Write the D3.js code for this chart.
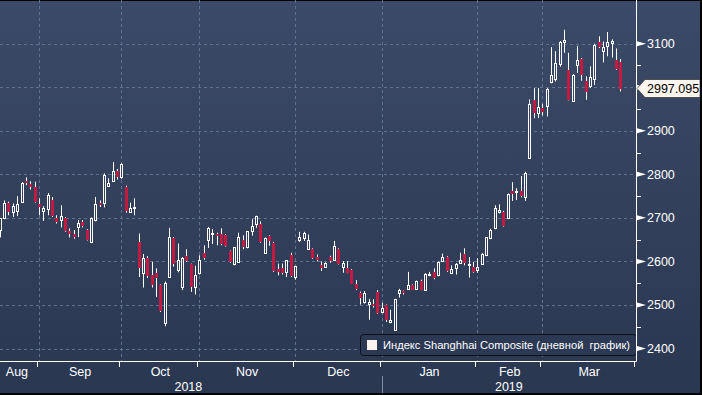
<!DOCTYPE html>
<html>
<head>
<meta charset="utf-8">
<script src="https://cdn.jsdelivr.net/npm/d3@7"></script>
<style>
    body { margin: 0; background: #000; }
    svg { display: block; }
    text { font-family: "Liberation Sans", Arial, sans-serif; }
</style>
</head>
<body>
<svg id="chart" width="702" height="395"></svg>
<script>
// Shanghai Composite, daily candles Aug 2018 - Mar 2019
var dates = [
    "2018-08-20","2018-08-21","2018-08-22","2018-08-23","2018-08-24","2018-08-27","2018-08-28","2018-08-29","2018-08-30","2018-08-31",
    "2018-09-03","2018-09-04","2018-09-05","2018-09-06","2018-09-07","2018-09-10","2018-09-11","2018-09-12","2018-09-13","2018-09-14",
    "2018-09-17","2018-09-18","2018-09-19","2018-09-20","2018-09-21","2018-09-25","2018-09-26","2018-09-27","2018-09-28",
    "2018-10-08","2018-10-09","2018-10-10","2018-10-11","2018-10-12","2018-10-15","2018-10-16","2018-10-17","2018-10-18","2018-10-19",
    "2018-10-22","2018-10-23","2018-10-24","2018-10-25","2018-10-26","2018-10-29","2018-10-30","2018-10-31",
    "2018-11-01","2018-11-02","2018-11-05","2018-11-06","2018-11-07","2018-11-08","2018-11-09","2018-11-12","2018-11-13","2018-11-14",
    "2018-11-15","2018-11-16","2018-11-19","2018-11-20","2018-11-21","2018-11-22","2018-11-23","2018-11-26","2018-11-27","2018-11-28",
    "2018-11-29","2018-11-30",
    "2018-12-03","2018-12-04","2018-12-05","2018-12-06","2018-12-07","2018-12-10","2018-12-11","2018-12-12","2018-12-13","2018-12-14",
    "2018-12-17","2018-12-18","2018-12-19","2018-12-20","2018-12-21","2018-12-24","2018-12-25","2018-12-26","2018-12-27","2018-12-28",
    "2019-01-02","2019-01-03","2019-01-04","2019-01-07","2019-01-08","2019-01-09","2019-01-10","2019-01-11","2019-01-14","2019-01-15",
    "2019-01-16","2019-01-17","2019-01-18","2019-01-21","2019-01-22","2019-01-23","2019-01-24","2019-01-25","2019-01-28","2019-01-29",
    "2019-01-30","2019-01-31",
    "2019-02-01","2019-02-11","2019-02-12","2019-02-13","2019-02-14","2019-02-15","2019-02-18","2019-02-19","2019-02-20","2019-02-21",
    "2019-02-22","2019-02-25","2019-02-26","2019-02-27","2019-02-28",
    "2019-03-01","2019-03-04","2019-03-05","2019-03-06","2019-03-07","2019-03-08","2019-03-11","2019-03-12","2019-03-13","2019-03-14",
    "2019-03-15","2019-03-18","2019-03-19","2019-03-20","2019-03-21","2019-03-22","2019-03-25","2019-03-26"
];

var open = [
    2673,2699,2735,2714,2716,2737,2784,2777,2770,2733,
    2716,2720,2742,2699,2696,2699,2670,2662,2679,2691,2672,2645,2695,2735,2735,2774,2785,2808,2794,
    2771,2714,2724,2645,2574,2607,2568,2574,2545,2458,2564,2653,2581,2541,2612,2593,2541,2574,
    2620,2650,2664,2664,2662,2661,2624,2593,2599,2649,2632,2670,2685,2685,2620,2658,2643,2582,2586,2576,2614,2564,
    2649,2653,2629,2629,2610,2591,2587,2610,2604,2628,2587,2584,2580,2547,2527,2507,2503,2503,2530,2484,
    2499,2462,2443,2528,2531,2537,2545,2537,2555,2535,2569,2575,2568,2600,2609,2574,2584,2597,2616,2593,2587,2581,
    2595,2614,2653,2676,2714,2714,2700,2762,2759,2762,2749,2838,2971,2940,2952,
    2956,3013,3019,3054,3105,3040,2969,3052,3065,3015,3002,3020,3103,3084,3094,3102,3062,3059
];

var high = [
    2700,2740,2737,2733,2750,2782,2793,2784,2783,2745,
    2727,2757,2748,2706,2729,2702,2676,2672,2695,2695,2674,2701,2748,2740,2802,2791,2828,2812,2825,
    2774,2735,2745,2664,2617,2612,2599,2584,2547,2554,2677,2656,2641,2610,2628,2595,2590,2614,
    2637,2679,2674,2666,2676,2663,2625,2633,2666,2660,2670,2697,2705,2692,2655,2660,2645,2595,2595,2603,2620,2590,
    2668,2668,2662,2630,2616,2600,2598,2613,2647,2630,2601,2601,2582,2557,2531,2532,2514,2513,2534,2505,
    2501,2489,2514,2537,2533,2576,2547,2556,2558,2573,2576,2584,2600,2618,2612,2591,2596,2620,2630,2610,2599,2607,
    2619,2656,2675,2729,2731,2716,2756,2782,2768,2796,2806,2972,2998,2998,2962,
    2998,3092,3083,3106,3132,3079,3030,3095,3067,3025,3048,3100,3117,3105,3127,3110,3089,3065
];

var low = [
    2655,2697,2706,2702,2704,2735,2775,2765,2735,2706,
    2693,2706,2702,2687,2678,2668,2655,2652,2656,2678,2648,2642,2692,2725,2724,2771,2783,2788,2790,
    2712,2712,2706,2564,2540,2562,2540,2518,2484,2451,2563,2588,2575,2534,2599,2530,2524,2570,
    2604,2631,2640,2637,2637,2634,2597,2591,2597,2628,2630,2659,2677,2643,2618,2636,2576,2568,2570,2564,2564,2558,
    2645,2647,2627,2606,2600,2578,2586,2597,2601,2593,2574,2573,2548,2534,2501,2503,2466,2494,2480,2481,
    2461,2458,2441,2517,2524,2535,2534,2535,2534,2534,2566,2559,2566,2599,2576,2573,2570,2595,2591,2563,2574,2574,
    2594,2612,2651,2674,2710,2680,2699,2739,2741,2747,2739,2836,2929,2929,2935,
    2933,3009,3013,3047,3079,2970,2967,3033,3015,2971,2998,3005,3090,3057,3071,3068,3040,2990
];

var close = [
    2699,2735,2714,2727,2731,2781,2779,2771,2737,2724,
    2723,2752,2704,2691,2704,2670,2664,2656,2689,2681,2650,2700,2731,2729,2798,2781,2808,2793,2824,
    2716,2722,2726,2584,2607,2566,2545,2563,2486,2551,2655,2595,2604,2607,2600,2541,2568,2603,
    2607,2677,2666,2662,2640,2636,2599,2632,2655,2632,2670,2681,2704,2645,2654,2647,2578,2576,2574,2603,2566,2589,
    2655,2666,2650,2607,2604,2585,2596,2601,2635,2595,2597,2574,2549,2537,2517,2527,2507,2497,2481,2494,
    2466,2465,2514,2534,2527,2545,2535,2554,2535,2572,2571,2561,2598,2610,2578,2582,2593,2603,2597,2595,2576,2587,
    2618,2655,2673,2722,2718,2681,2754,2755,2761,2750,2804,2962,2940,2954,2942,
    2996,3029,3056,3105,3109,2971,3029,3063,3029,2990,3023,3097,3092,3092,3104,3107,3042,2997.095
];

var yTicks = [2400, 2500, 2600, 2700, 2800, 2900, 3000, 3100];
var yLabels = [2400, 2500, 2600, 2700, 2800, 2900, 3100];   // 3000 sits under the price tag
var yMinor = [2450, 2550, 2650, 2750, 2850, 2950, 3050];
var monthLabels = ["Aug", "Sep", "Oct", "Nov", "Dec", "Jan", "Feb", "Mar"];
var yearLabels = ["2018", "2019"];
var lastValue = "2997.095";
var legendText = "Индекс Shanghhai Composite (дневной  график)";

// dimensions
var width = 702;
var height = 395;
var plot = {left: 0, right: 636, top: 0, bottom: 361};
var step = 4.34;

var svg = d3.select("#chart");
var defs = svg.append("defs");

var grad = defs.append("linearGradient")
    .attr("id", "bg")
    .attr("gradientUnits", "userSpaceOnUse")
    .attr("x1", 0).attr("y1", 0)
    .attr("x2", 0).attr("y2", height);
grad.append("stop").attr("offset", 0).attr("stop-color", "#3b4a68");
grad.append("stop").attr("offset", 1).attr("stop-color", "#2a3751");

defs.append("clipPath").attr("id", "plotClip")
    .append("rect")
    .attr("x", plot.left).attr("y", plot.top)
    .attr("width", plot.right - plot.left)
    .attr("height", plot.bottom - plot.top);

// background + dark frame
svg.append("rect").attr("width", width).attr("height", height).attr("fill", "url(#bg)");
svg.append("rect").attr("x", 0).attr("y", 0).attr("width", width).attr("height", 1).attr("fill", "#000");
svg.append("rect").attr("x", 700).attr("y", 0).attr("width", 2).attr("height", height).attr("fill", "#000");
svg.append("rect").attr("x", 0).attr("y", 393).attr("width", width).attr("height", 2).attr("fill", "#000");

// scales
var x = d3.scaleBand()
    .domain(dates)
    .range([-2.37, -2.37 + dates.length * step]);
function xc(d) { return x(d) + x.bandwidth() / 2; }

var y = d3.scaleLinear()
    .domain([2400, 3100])
    .range([348.5, 43.7]);

// last trading day of each month -> gridline / tick positions
var monthEnds = [];
dates.forEach(function(d, i) {
    if (i < dates.length - 1 && d.slice(0, 7) !== dates[i + 1].slice(0, 7)) monthEnds.push(d);
});
var bounds = [-5].concat(monthEnds.map(function(d) { return xc(d); })).concat([plot.right]);

// grid
var grid = svg.append("g").attr("stroke", "#5e7292").attr("stroke-dasharray", "3,3").attr("stroke-width", 1);
grid.selectAll("line.h").data(yTicks).enter().append("line")
    .attr("x1", plot.left).attr("x2", plot.right)
    .attr("y1", function(d) { return Math.round(y(d)) + 0.5; })
    .attr("y2", function(d) { return Math.round(y(d)) + 0.5; });
grid.selectAll("line.v").data(monthEnds).enter().append("line")
    .attr("x1", function(d) { return Math.round(xc(d)) + 0.5; })
    .attr("x2", function(d) { return Math.round(xc(d)) + 0.5; })
    .attr("y1", plot.top).attr("y2", plot.bottom);

// candles
var candles = dates.map(function(d, i) {
    return {date: d, o: open[i], h: high[i], l: low[i], c: close[i]};
});

var cg = svg.append("g").attr("clip-path", "url(#plotClip)");
var candle = cg.selectAll("g.candle").data(candles).enter().append("g");

candle.append("line")
    .attr("x1", function(d) { return Math.round(xc(d.date)) + 0.5; })
    .attr("x2", function(d) { return Math.round(xc(d.date)) + 0.5; })
    .attr("y1", function(d) { return y(d.h); })
    .attr("y2", function(d) { return y(d.l); })
    .attr("stroke", "#ffffff")
    .attr("stroke-width", 1);

candle.filter(function(d) { return d.c >= d.o; }).append("rect")
    .attr("x", function(d) { return Math.round(xc(d.date)) - 0.5; })
    .attr("y", function(d) { return Math.round(y(d.c)) + 0.5; })
    .attr("width", 2)
    .attr("height", function(d) { return Math.max(1, Math.round(y(d.o)) - Math.round(y(d.c))); })
    .attr("fill", "url(#bg)")
    .attr("stroke", "#ffffff")
    .attr("stroke-width", 1);

candle.filter(function(d) { return d.c < d.o; }).append("rect")
    .attr("x", function(d) { return Math.round(xc(d.date)) - 1; })
    .attr("y", function(d) { return Math.round(y(d.o)); })
    .attr("width", 3)
    .attr("height", function(d) { return Math.max(2, Math.round(y(d.c)) - Math.round(y(d.o))); })
    .attr("fill", "#c41a41");

// legend
var legend = svg.append("g");
legend.append("rect")
    .attr("x", 360.5).attr("y", 334.5)
    .attr("width", 276).attr("height", 21)
    .attr("rx", 3)
    .attr("fill", "#2c3954")
    .attr("stroke", "#0c1019");
legend.append("rect")
    .attr("x", 367).attr("y", 340)
    .attr("width", 10).attr("height", 10)
    .attr("fill", "#fdf3ee");
legend.append("text")
    .attr("x", 383).attr("y", 345)
    .attr("dy", "0.35em")
    .attr("fill", "#ffffff")
    .attr("textLength", 247)
    .attr("lengthAdjust", "spacingAndGlyphs")
    .style("font-size", "11px")
    .style("white-space", "pre")
    .text(legendText);

// axes lines
svg.append("line")
    .attr("x1", plot.right + 0.5).attr("x2", plot.right + 0.5)
    .attr("y1", 0).attr("y2", plot.bottom + 0.5)
    .attr("stroke", "#ffffff");
svg.append("line")
    .attr("x1", 0).attr("x2", plot.right + 0.5)
    .attr("y1", plot.bottom + 0.5).attr("y2", plot.bottom + 0.5)
    .attr("stroke", "#ffffff");

// right axis: minor ticks, arrow markers, labels
svg.selectAll("line.minor").data(yMinor).enter().append("line")
    .attr("x1", plot.right).attr("x2", plot.right + 5)
    .attr("y1", function(d) { return Math.round(y(d)) + 0.5; })
    .attr("y2", function(d) { return Math.round(y(d)) + 0.5; })
    .attr("stroke", "#ffffff");

svg.selectAll("path.mark").data(yTicks).enter().append("path")
    .attr("d", function(d) {
        var yy = y(d);
        return "M" + (plot.right + 1) + "," + (yy - 2.5) + "L" + (plot.right + 10) + "," + yy + "L" + (plot.right + 1) + "," + (yy + 2.5) + "Z";
    })
    .attr("fill", "#ffffff");

svg.selectAll("text.ylab").data(yLabels).enter().append("text")
    .attr("x", 647)
    .attr("y", function(d) { return y(d); })
    .attr("dy", "0.36em")
    .attr("fill", "#ffffff")
    .style("font-size", "12.5px")
    .text(function(d) { return d; });

// last price tag
var ty = y(+lastValue);
svg.append("path")
    .attr("d", "M637," + ty + "L645," + (ty - 9) + "L700," + (ty - 9) + "L700," + (ty + 9) + "L645," + (ty + 9) + "Z")
    .attr("fill", "#fff6ef")
    .attr("stroke", "#1a1a1a")
    .attr("stroke-width", 0.6);
svg.append("text")
    .attr("x", 647).attr("y", ty)
    .attr("dy", "0.36em")
    .attr("fill", "#000000")
    .style("font-size", "12.5px")
    .text(lastValue);

// bottom axis: ticks at month ends, month and year labels
svg.selectAll("line.xtick").data(bounds.slice(1)).enter().append("line")
    .attr("x1", function(d) { return Math.round(d) - 1.5; })
    .attr("x2", function(d) { return Math.round(d) - 1.5; })
    .attr("y1", plot.bottom).attr("y2", plot.bottom + 6)
    .attr("stroke", "#ffffff");

svg.selectAll("text.month").data(monthLabels).enter().append("text")
    .attr("x", function(d, i) { return (bounds[i] + bounds[i + 1]) / 2; })
    .attr("y", 371)
    .attr("dy", "0.36em")
    .attr("text-anchor", "middle")
    .attr("fill", "#ffffff")
    .style("font-size", "12.5px")
    .text(function(d) { return d; });

var yearBreak = xc("2018-12-28");
var yearBounds = [-5, yearBreak, plot.right];
svg.append("line")
    .attr("x1", Math.round(yearBreak) + 0.5).attr("x2", Math.round(yearBreak) + 0.5)
    .attr("y1", 376).attr("y2", 393)
    .attr("stroke", "#7f8fa8");

svg.selectAll("text.year").data(yearLabels).enter().append("text")
    .attr("x", function(d, i) { return (yearBounds[i] + yearBounds[i + 1]) / 2; })
    .attr("y", 386)
    .attr("dy", "0.36em")
    .attr("text-anchor", "middle")
    .attr("fill", "#ffffff")
    .style("font-size", "12.5px")
    .text(function(d) { return d; });
</script>
</body>
</html>
